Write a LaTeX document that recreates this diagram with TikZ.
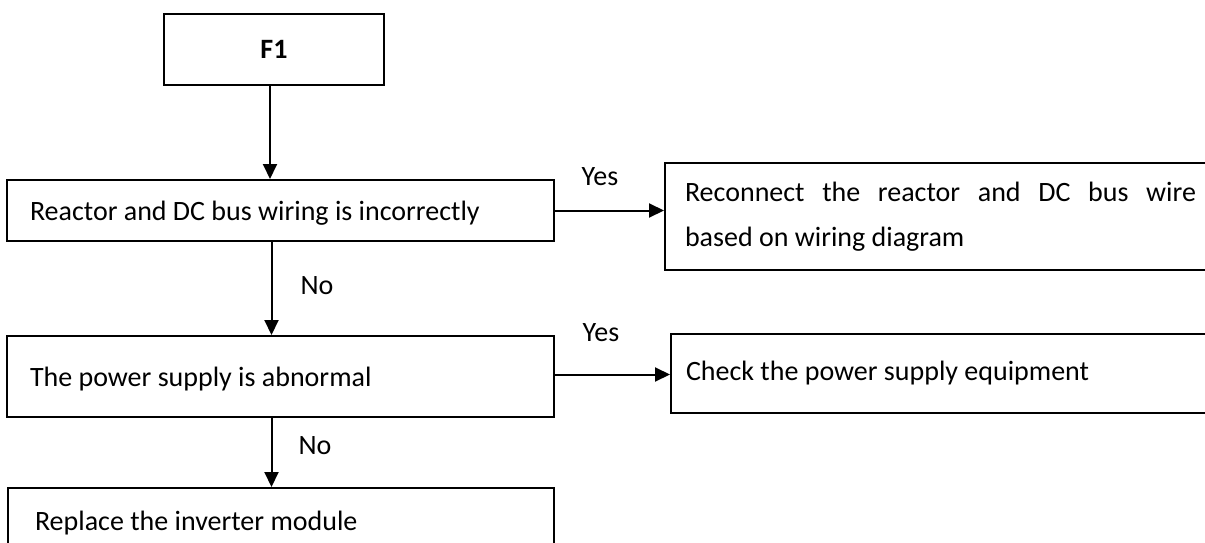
\documentclass[tikz,border=0pt]{standalone}
\usepackage{fontspec}
\setmainfont{Carlito}
\usepackage{tikz}
\usetikzlibrary{arrows.meta, positioning, calc}
\newcommand{\lefttext}[2]{\makebox[#1][l]{#2}}

\begin{document}
\begin{tikzpicture}[
  x=1pt, y=-1pt,
  stepbox/.style={draw, line width=2pt, anchor=north west,
                  inner ysep=0pt, font=\fontsize{28}{45}\selectfont},
  low/.style={text height=22pt, text depth=2pt},
  arr/.style={-{Triangle[length=15pt, width=14pt]}, line width=2pt},
  lbl/.style={font=\fontsize{28}{30}\selectfont}
]
  \useasboundingbox (0,0) rectangle (1205,543);

  % start box
  \node[stepbox, minimum width=220pt, minimum height=71pt,
        font=\fontsize{28}{30}\selectfont\bfseries] (f1) at (163,13) {F1};

  % checks on the left
  \node[stepbox, low, inner xsep=23pt, minimum height=61pt] (reactor) at (6,179)
    {\lefttext{501pt}{Reactor and DC bus wiring is incorrectly}};
  \node[stepbox, low, inner xsep=23pt, minimum height=81pt] (power) at (6,335)
    {\lefttext{501pt}{The power supply is abnormal}};
  \node[stepbox, inner xsep=27pt, minimum height=70pt] (replace) at (7,487)
    {\lefttext{492pt}{Replace the inverter module}};

  % actions on the right
  \node[stepbox, inner xsep=20pt, text width=511pt, align=justify, minimum height=107pt]
    (reconnect) at (664,162)
    {Reconnect the reactor and DC bus wire \linebreak based on wiring diagram};
  \node[stepbox, inner xsep=15pt, minimum height=79pt] (check) at (670,333)
    {\lefttext{520pt}{Check the power supply equipment}};

  % connectors
  \draw[arr] ([xshift=-4pt]f1.south) -- ([xshift=-4pt]f1.south |- reactor.north);
  \draw[arr] ([xshift=-9pt]reactor.south) -- ([xshift=-9pt]reactor.south |- power.north);
  \draw[arr] ([xshift=-9pt]power.south) -- ([xshift=-9pt]power.south |- replace.north);
  \draw[arr] (reactor.east) -- (reconnect.west |- reactor.east);
  \draw[arr] ([yshift=2pt]power.east) -- ([yshift=2pt]check.west |- power.east);

  % branch labels
  \node[lbl] (yes1) at (600,177) {Yes};
  \node[lbl] (yes2) at (601,333) {Yes};
  \node[lbl] (no1) at (317,286) {No};
  \node[lbl] (no2) at (315,446) {No};
\end{tikzpicture}
\end{document}
